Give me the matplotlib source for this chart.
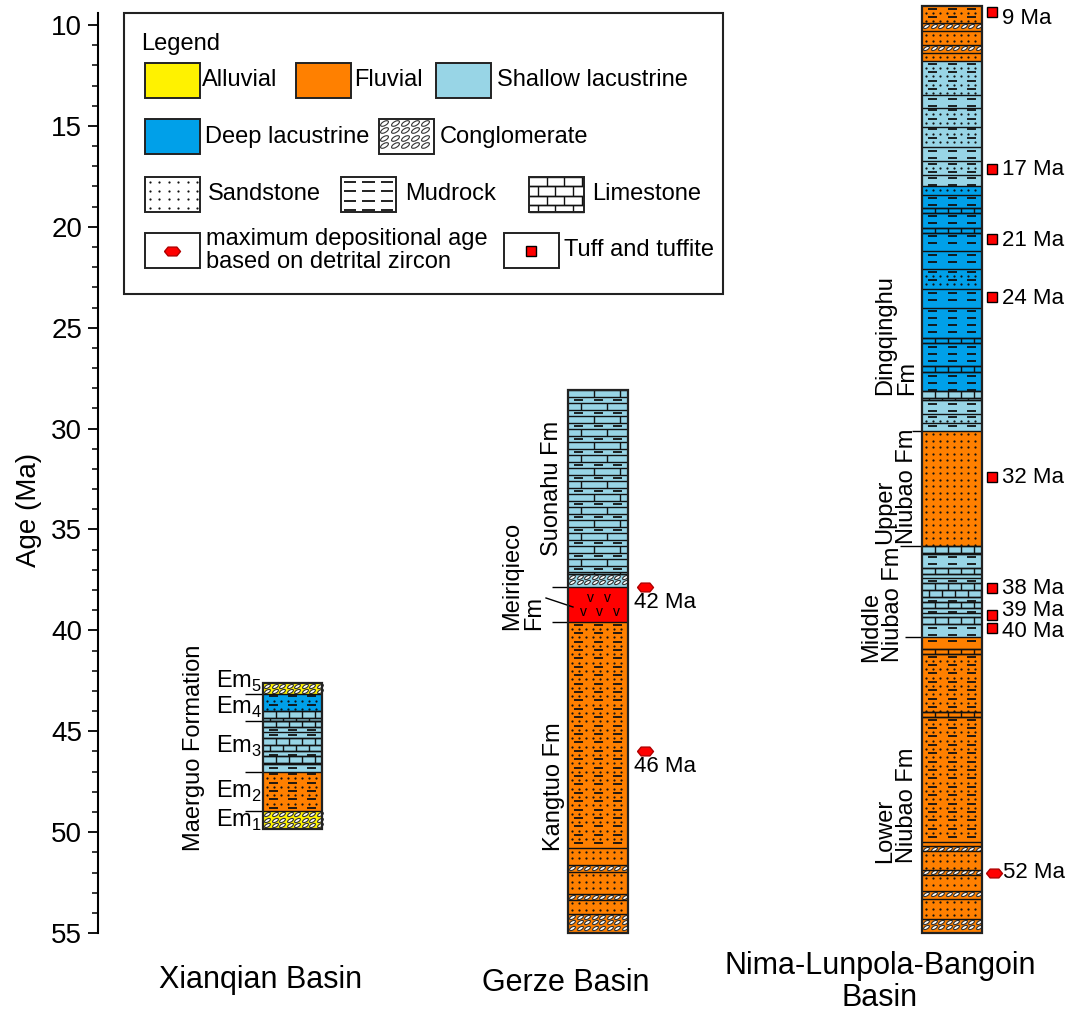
import matplotlib.pyplot as plt
import numpy as np
from matplotlib.patches import Rectangle
from matplotlib.collections import LineCollection, EllipseCollection

plt.rcParams['font.family'] = ['Liberation Sans', 'DejaVu Sans']
plt.rcParams['mathtext.fontset'] = 'custom'
plt.rcParams['mathtext.rm'] = 'Liberation Sans'

# ── Data ─────────────────────────────────────────────────────────
# Xianqian Basin (Maerguo Formation), ages in Ma, top -> bottom
xq_bounds = [42.6, 43.15, 44.0, 44.5, 44.77, 45.03, 45.32, 45.98, 46.22, 46.64, 47.0, 48.95, 49.85]
xq_facies = ['alluvial', 'deep', 'shallow', 'shallow', 'shallow', 'shallow', 'shallow',
             'shallow', 'shallow', 'shallow', 'fluvial', 'alluvial']
xq_litho = ['cong', 'sandy_mud', 'lime', 'lime', 'mud', 'mud', 'lime', 'mud', 'lime', 'mud',
            'sandy_mud', 'cong']
xq_members = ['5', '4', '3', '2', '1']
xq_member_bounds = [42.6, 43.15, 44.5, 47.0, 48.95, 49.85]

# Gerze Basin
gz_bounds = [28.1, 37.2, 37.85, 39.6, 50.8, 51.65, 51.95, 53.05, 53.35, 54.05, 55.0]
gz_facies = ['shallow', 'shallow', 'volcanic', 'fluvial', 'fluvial', 'fluvial', 'fluvial',
             'fluvial', 'fluvial', 'fluvial']
gz_litho = ['mud_lime', 'cong', 'volc', 'sandy_mud', 'sand', 'cong', 'sand', 'cong', 'sand', 'cong']
gz_fm_bounds = [37.85, 39.6]
gz_zircon_ages = [37.85, 46.0]
gz_zircon_labels = ['42 Ma', '46 Ma']

# Nima-Lunpola-Bangoin Basin
nm_bounds = [9.06, 9.9, 10.3, 11.0, 11.4, 11.8, 13.47, 14.1, 15.05, 16.05, 16.74, 17.43, 18.0,
             18.4, 19.07, 19.3, 20.06, 20.3, 21.2, 22.1, 23.1, 24.0, 25.5, 25.76, 26.9, 27.2,
             28.14, 28.6, 29.3, 29.7, 30.1, 35.8, 36.2, 36.9, 37.2, 37.4, 37.65, 38.35, 38.6,
             38.9, 39.15, 39.35, 39.7, 40.35, 40.9, 41.17, 44.05, 44.3, 50.5, 50.7, 50.95,
             51.85, 52.1, 52.9, 53.3, 54.3, 55.0]
nm_facies = (['fluvial'] * 5 + ['shallow'] * 7 + ['deep'] * 14 + ['shallow'] * 4 +
             ['fluvial'] + ['shallow'] * 12 + ['fluvial'] * 13)
nm_litho = ['sandy_mud', 'cong', 'sand', 'cong', 'sand',
            'sandy_mud', 'mud', 'sandy_mud', 'sandy_mud', 'mud', 'sandy_mud', 'mud',
            'sand', 'mud', 'lime', 'mud', 'lime', 'mud', 'mud', 'sandy_mud', 'mud', 'mud',
            'lime', 'mud', 'lime', 'mud',
            'lime', 'mud', 'sandy_mud', 'mud',
            'sand',
            'lime', 'mud', 'lime', 'mud', 'mud', 'lime', 'mud', 'lime', 'mud', 'mud', 'lime', 'mud',
            'mud', 'lime', 'sandy_mud', 'lime', 'sandy_mud', 'sand', 'cong', 'sand', 'cong',
            'sand', 'cong', 'sand', 'cong']
nm_fm_bounds = [30.1, 35.8, 40.35]
nm_tuff_ages = [9.36, 17.16, 20.58, 23.5, 32.4, 37.9, 39.26, 39.88]
nm_tuff_labels = ['9 Ma', '17 Ma', '21 Ma', '24 Ma', '32 Ma', '38 Ma', '39 Ma', '40 Ma']
nm_zircon_ages = [52.0]
nm_zircon_labels = ['52 Ma']

legend_labels = ['Alluvial', 'Fluvial', 'Shallow lacustrine', 'Deep lacustrine', 'Conglomerate',
                 'Sandstone', 'Mudrock', 'Limestone',
                 'maximum depositional age\nbased on detrital zircon', 'Tuff and tuffite']

FACIES = {'alluvial': '#fff200', 'fluvial': '#ff8000', 'shallow': '#98d5e6',
          'deep': '#00a0e9', 'volcanic': '#ff0000', 'blank': 'white'}
HEX = [(-1, 0), (-0.55, 0.55), (0.55, 0.55), (1, 0), (0.55, -0.55), (-0.55, -0.55), (-1, 0)]

# ── Layout (pixel) ───────────────────────────────────────────────
W, H = 1066, 1017
PX_PER_MA = 20.18
Y10 = 25.0
K = 1.0 / PX_PER_MA
FS_LAB = 17
FS_AGE = 16


def age_at(py):
    return 10 + (py - Y10) / PX_PER_MA


def draw_pattern(a, x0, x1, top, bot, litho, k, s=1.0):
    w = x1 - x0
    h = (bot - top) / k
    segs, dsegs, dx, dy = [], [], [], []

    def Y(p):
        return top + p * k

    def dots(py):
        for px in np.arange(3.5 * s, w - 1, 7.0 * s):
            dx.append(x0 + px)
            dy.append(Y(py))

    def dashes(py):
        for f in (0.17, 0.5, 0.83):
            c = x0 + f * w
            dsegs.append([(c - 4.5 * s, Y(py)), (c + 4.5 * s, Y(py))])

    def bricks(p0, p1, shift, b):
        segs.append([(x0, Y(p0)), (x1, Y(p0))])
        segs.append([(x0, Y(p1)), (x1, Y(p1))])
        for px in np.arange(b / 2 if shift else b, w - 1, b):
            segs.append([(x0 + px, Y(p0)), (x0 + px, Y(p1))])

    if litho == 'sand':
        for py in np.arange(3.5 * s, h - 1, 6.5 * s):
            dots(py)
    elif litho == 'mud':
        for py in np.arange(3.5 * s, h - 1, 7 * s):
            dashes(py)
    elif litho == 'sandy_mud':
        for i, py in enumerate(np.arange(2.5, h - 1, 4.2)):
            if i % 2 == 0:
                dashes(py)
            else:
                dots(py)
    elif litho == 'lime':
        row = 7 * s
        for i, p0 in enumerate(np.arange(0, h - 1, row)):
            bricks(p0, min(p0 + row, h), i % 2, 13 * s)
    elif litho == 'mud_lime':
        for i, p0 in enumerate(np.arange(0, h - 1, 13)):
            bricks(p0, min(p0 + 7, h), i % 2, 26)
            if p0 + 10 < h - 1:
                dashes(p0 + 10)
    elif litho == 'cong':
        ys = np.arange(3 * s, h - 1.5, 5.5 * s) if h > 6 * s else [h / 2]
        offs = [(x0 + px, Y(py)) for py in ys for px in np.arange(4 * s, w - 2, 7.5 * s)]
        ec = EllipseCollection(6.5 * s, 3.0 * s, 30, units='dots', offsets=offs,
                               offset_transform=a.transData, facecolor='white',
                               edgecolor='#333333', linewidth=0.8, zorder=3)
        a.add_collection(ec)
    elif litho == 'volc':
        for fy, fxs in ((0.3, (0.37, 0.65)), (0.72, (0.25, 0.53, 0.8))):
            for fx in fxs:
                a.text(x0 + fx * w, Y(fy * h), 'v', ha='center', va='center',
                       fontsize=10, zorder=3)
    if segs:
        a.add_collection(LineCollection(segs, colors='#111111', linewidths=1.0, zorder=3))
    if dsegs:
        a.add_collection(LineCollection(dsegs, colors='#111111', linewidths=1.3, zorder=3))
    if dx:
        a.plot(dx, dy, 'o', ms=1.6, mew=0, color='#111111', zorder=3)


def draw_column(a, x0, x1, bounds, facies, litho):
    for top, bot, f, l in zip(bounds[:-1], bounds[1:], facies, litho):
        a.add_patch(Rectangle((x0, top), x1 - x0, bot - top, facecolor=FACIES[f],
                              edgecolor='none', zorder=2))
        draw_pattern(a, x0, x1, top, bot, l, K)
    a.hlines(bounds[1:-1], x0, x1, color='#111111', lw=1.0, zorder=4)
    a.add_patch(Rectangle((x0, bounds[0]), x1 - x0, bounds[-1] - bounds[0], fill=False,
                          edgecolor='#222222', lw=1.6, zorder=5))


fig = plt.figure(figsize=(W / 100, H / 100), dpi=100)
ax = fig.add_axes([0, 0, 1, 1])
ax.set_xlim(0, W)
ax.set_ylim(age_at(H), age_at(0))

# age axis
for sp in ('top', 'right', 'bottom'):
    ax.spines[sp].set_visible(False)
ax.spines['left'].set_position(('data', 98))
ax.spines['left'].set_bounds(9.4, 55)
ax.spines['left'].set_linewidth(1.5)
ax.set_xticks([])
ax.set_yticks(np.arange(10, 56, 5))
ax.set_yticks(np.arange(10, 56, 1), minor=True)
ax.tick_params(axis='y', which='major', direction='out', length=7.5, width=1.3,
               labelsize=20, pad=4)
ax.tick_params(axis='y', which='minor', direction='out', length=4, width=1.1)
ax.text(29, age_at(510), 'Age (Ma)', rotation=90, ha='center', va='center', fontsize=20)

# columns
draw_column(ax, 263, 322, xq_bounds, xq_facies, xq_litho)
draw_column(ax, 568, 628, gz_bounds, gz_facies, gz_litho)
draw_column(ax, 922, 982, nm_bounds, nm_facies, nm_litho)

# Xianqian member labels
ax.hlines(xq_member_bounds[1:-1], 245, 263, color='k', lw=1.0)
for i, m in enumerate(xq_members):
    mid = 0.5 * (xq_member_bounds[i] + xq_member_bounds[i + 1])
    if i == 0:
        mid -= 0.35
    ax.text(262, mid, r'$\mathrm{Em}_{%s}$' % m, ha='right', va='center', fontsize=FS_LAB)
ax.text(194, age_at(748), 'Maerguo Formation', rotation=90, ha='center', va='center',
        fontsize=FS_LAB)

# Gerze labels
ax.text(552, age_at(488), 'Suonahu Fm', rotation=90, ha='center', va='center', fontsize=FS_LAB)
ax.text(523, age_at(630), 'Meiriqieco\nFm', rotation=90, ha='center', va='bottom',
        multialignment='left', linespacing=1.0, fontsize=FS_LAB)
ax.text(554, age_at(787), 'Kangtuo Fm', rotation=90, ha='center', va='center', fontsize=FS_LAB)
ax.hlines(gz_fm_bounds, 552, 568, color='k', lw=1.0)
ax.plot([546, 573], [age_at(598), age_at(607)], color='k', lw=1.0)

ax.plot([645] * len(gz_zircon_ages), gz_zircon_ages, ls='none', marker=HEX, ms=11.5,
        mfc='#ff0000', mec='#b00000', mew=1, zorder=6)
for a_, lab in zip(gz_zircon_ages, gz_zircon_labels):
    ax.text(634, a_ + 15 * K, lab, ha='left', va='center', fontsize=FS_AGE)

# Nima labels
ax.text(896, age_at(395), 'Dingqinghu\nFm', rotation=90, ha='center', va='bottom',
        multialignment='left', linespacing=1.0, fontsize=FS_LAB)
ax.text(896, age_at(544), 'Upper\nNiubao Fm', rotation=90, ha='center', va='bottom',
        multialignment='left', linespacing=1.0, fontsize=FS_LAB)
ax.text(882, age_at(662), 'Middle\nNiubao Fm', rotation=90, ha='center', va='bottom',
        multialignment='left', linespacing=1.0, fontsize=FS_LAB)
ax.text(896, age_at(863), 'Lower\nNiubao Fm', rotation=90, ha='center', va='bottom',
        multialignment='left', linespacing=1.0, fontsize=FS_LAB)
for b, x_start in zip(nm_fm_bounds, (912, 900, 905)):
    ax.hlines(b, x_start, 922, color='k', lw=1.0)

ax.plot([992] * len(nm_tuff_ages), nm_tuff_ages, ls='none', marker='s', ms=7.2,
        mfc='#ff0000', mec='k', mew=1, zorder=6)
for a_, lab, off in zip(nm_tuff_ages, nm_tuff_labels, (6.5, 0.5, 1.5, 1.5, 0, 0, -4.5, 4)):
    ax.text(1002, a_ + off * K, lab, ha='left', va='center', fontsize=FS_AGE)
ax.plot([994] * len(nm_zircon_ages), nm_zircon_ages, ls='none', marker=HEX, ms=11.5,
        mfc='#ff0000', mec='#b00000', mew=1, zorder=6)
for a_, lab in zip(nm_zircon_ages, nm_zircon_labels):
    ax.text(1003, a_, lab, ha='left', va='center', fontsize=FS_AGE)

# ── Legend and basin names (pixel axes) ─────────────────────────
lax = fig.add_axes([0, 0, 1, 1])
lax.set_xlim(0, W)
lax.set_ylim(H, 0)
lax.axis('off')
lax.patch.set_alpha(0)

lax.add_patch(Rectangle((124, 13), 599, 281, fill=False, edgecolor='#222222', lw=1.5))
lax.text(141, 44, 'Legend', ha='left', va='center', fontsize=17)

rows = [63, 119, 177, 233]
items = [  # (x0, row, facies, litho, marker, text_x)
    (145, 0, 'alluvial', None, None, 202),
    (296, 0, 'fluvial', None, None, 354),
    (436, 0, 'shallow', None, None, 497),
    (145, 1, 'deep', None, None, 205),
    (379, 1, 'blank', 'cong', None, 440),
    (145, 2, 'blank', 'sand', None, 208),
    (341, 2, 'blank', 'mud', None, 405),
    (529, 2, 'blank', 'lime', None, 592),
    (145, 3, 'blank', None, 'hex', 206),
    (504, 3, 'blank', None, 'sq', 564),
]
for (x0, r, f, l, mk, tx), lab in zip(items, legend_labels):
    top = rows[r]
    lax.add_patch(Rectangle((x0, top), 55, 35, facecolor=FACIES[f], edgecolor='none', zorder=2))
    if l:
        draw_pattern(lax, x0, x0 + 55, top, top + 35, l, 1.0, s=1.35)
    if mk == 'hex':
        lax.plot(x0 + 27, top + 17.5, marker=HEX, ms=11.5, mfc='#ff0000', mec='#b00000',
                 mew=1, zorder=4)
    elif mk == 'sq':
        lax.plot(x0 + 27, top + 17.5, marker='s', ms=7.2, mfc='#ff0000', mec='k',
                 mew=1, zorder=4)
    lax.add_patch(Rectangle((x0, top), 55, 35, fill=False, edgecolor='#222222', lw=1.4, zorder=5))
    lax.text(tx, top + 17.5, lab, ha='left', va='center', fontsize=17, linespacing=1.0)

lax.text(261, 980, 'Xianqian Basin', ha='center', va='center', fontsize=22)
lax.text(566, 983, 'Gerze Basin', ha='center', va='center', fontsize=22)
lax.text(880, 982, 'Nima-Lunpola-Bangoin\nBasin', ha='center', va='center', fontsize=22,
         linespacing=1.1)

fig.savefig('out.png', dpi=100)
